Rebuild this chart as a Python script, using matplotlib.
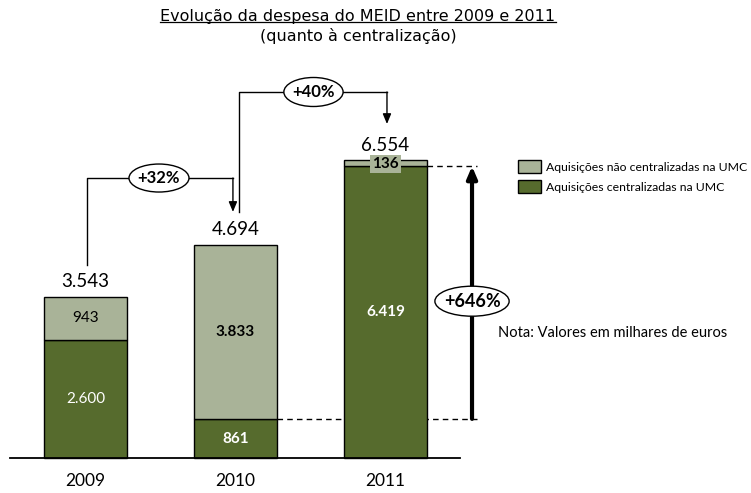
import numpy as np
import matplotlib
matplotlib.use("Agg")
import matplotlib.pyplot as plt
from matplotlib.patches import Patch, Ellipse

# Data (milhares de euros)
years = ["2009", "2010", "2011"]
centralizadas = [2600, 861, 6419]
nao_centralizadas = [943, 3833, 136]
totais = [3543, 4694, 6554]  # as printed on the chart

lbl_nao = "Aquisições não centralizadas na UMC"
lbl_cen = "Aquisições centralizadas na UMC"
title_1 = "Evolução da despesa do MEID entre 2009 e 2011"
title_2 = "(quanto à centralização)"
nota = "Nota: Valores em milhares de euros"

C_DARK = "#566B2D"
C_LIGHT = "#A9B398"
FONT = "Lato"


def fmt(v):
    return f"{v:,}".replace(",", ".")


cen = np.array(centralizadas)
nao = np.array(nao_centralizadas)
tot = np.array(totais)
x = np.arange(len(years))
W = 0.553

fig = plt.figure(figsize=(7.51, 4.93), dpi=100)
ax = fig.add_axes([0, 0, 1, 1])
ax.set_xlim(-0.57, 4.437)
ax.set_ylim(-770, 10077)
ax.set_axis_off()

ax.bar(x, cen, W, color=C_DARK, edgecolor="black", lw=1.0, zorder=3)
ax.bar(x, nao, W, bottom=cen, color=C_LIGHT, edgecolor="black", lw=1.0, zorder=3)

# baseline
ax.plot([-0.503, 2.497], [0, 0], color="black", lw=1.3, zorder=4)

# year labels and totals
for i in x:
    ax.text(i, -500, years[i], ha="center", va="center", fontsize=12.5,
            family=FONT)
    ax.text(i, tot[i] + 330, fmt(tot[i]), ha="center", va="center",
            fontsize=13.5, family=FONT)

# inside labels
ax.text(0, nao[0] / 2 + cen[0], fmt(nao[0]), ha="center", va="center",
        fontsize=11, family=FONT, color="black")
ax.text(0, cen[0] / 2, fmt(cen[0]), ha="center", va="center",
        fontsize=11, family=FONT, color="white")
ax.text(1, cen[1] + nao[1] / 2, fmt(nao[1]), ha="center", va="center",
        fontsize=11, family=FONT, fontweight="bold", color="black")
ax.text(1, cen[1] / 2 - 20, fmt(cen[1]), ha="center", va="center",
        fontsize=11, family=FONT, fontweight="bold", color="white")
ax.text(2, cen[2] / 2, fmt(cen[2]), ha="center", va="center",
        fontsize=11, family=FONT, fontweight="bold", color="white")
ax.text(2, cen[2] + nao[2] / 2 - 20, fmt(nao[2]), ha="center", va="center",
        fontsize=11, family=FONT, fontweight="bold", color="black",
        bbox=dict(boxstyle="square,pad=0.15", fc=C_LIGHT, ec="none"),
        zorder=5)


def oval_label(xc, yc, w, h, text, size):
    ax.add_patch(Ellipse((xc, yc), w, h, fc="white", ec="black", lw=1.0,
                         zorder=5))
    ax.text(xc, yc, text, ha="center", va="center", fontsize=size,
            fontweight="bold", family=FONT, zorder=6)


arrow_kw = dict(arrowstyle="-|>,head_length=0.6,head_width=0.25",
                color="black", lw=1.0, shrinkA=0, shrinkB=0)

# 2009 -> 2010
g1 = (tot[1] / tot[0] - 1) * 100
y_top1 = 6160
ax.plot([0.01, 0.01, 0.983], [tot[0] + 700, y_top1, y_top1],
        color="black", lw=1.0)
ax.annotate("", xy=(0.983, tot[1] + 720), xytext=(0.983, y_top1),
            arrowprops=arrow_kw)
oval_label(0.49, y_top1, 0.40, 616, f"+{g1:.0f}%", 12)

# 2010 -> 2011
g2 = (tot[2] / tot[1] - 1) * 100
y_top2 = 8053
ax.plot([1.023, 1.023, 2.01], [tot[1] + 718, y_top2, y_top2],
        color="black", lw=1.0)
ax.annotate("", xy=(2.01, tot[2] + 795), xytext=(2.01, y_top2),
            arrowprops=arrow_kw)
oval_label(1.52, y_top2, 0.395, 638, f"+{g2:.0f}%", 12)

# centralised growth 2010 -> 2011
g3 = (cen[2] / cen[1] - 1) * 100
xa = 2.577
ax.plot([1 + W / 2, 2.61], [cen[1], cen[1]], color="black", lw=1.0,
        ls=(0, (4, 3)), zorder=2)
ax.plot([2 + W / 2, 2.61], [cen[2], cen[2]], color="black", lw=1.0,
        ls=(0, (4, 3)), zorder=2)
ax.annotate("", xy=(xa, cen[2]), xytext=(xa, cen[1]),
            arrowprops=dict(arrowstyle="-|>,head_length=0.7,head_width=0.3",
                            color="black", lw=3.0, shrinkA=0, shrinkB=0))
oval_label(xa, 3450, 0.495, 660, f"+{g3:.0f}%", 13)

# note
ax.text(498 / 751, 1 - 333 / 493, nota, transform=ax.transAxes,
        ha="left", va="center", fontsize=10.5, family=FONT)

# legend
handles = [Patch(fc=C_LIGHT, ec="black", label=lbl_nao),
           Patch(fc=C_DARK, ec="black", label=lbl_cen)]
ax.legend(handles=handles, loc="upper left",
          bbox_to_anchor=(518 / 751, 1 - 160 / 493), frameon=False,
          prop=dict(family=FONT, size=8.8), handlelength=1.9, handleheight=1.3,
          handletextpad=0.35, labelspacing=0.55, borderaxespad=0,
          borderpad=0)

# title (underlined first line)
t1 = fig.text(358 / 751, 1 - 16 / 493, title_1, ha="center", va="center",
              fontsize=11.5, family="DejaVu Sans")
fig.text(358 / 751, 1 - 36 / 493, title_2, ha="center", va="center",
         fontsize=11.5, family="DejaVu Sans")
fig.canvas.draw()
bb = t1.get_window_extent().transformed(fig.transFigure.inverted())
fig.add_artist(plt.Line2D([bb.x0, bb.x1], [bb.y0 + 0.004, bb.y0 + 0.004],
                          transform=fig.transFigure, color="black", lw=0.9))

fig.savefig("out.png", dpi=100)
